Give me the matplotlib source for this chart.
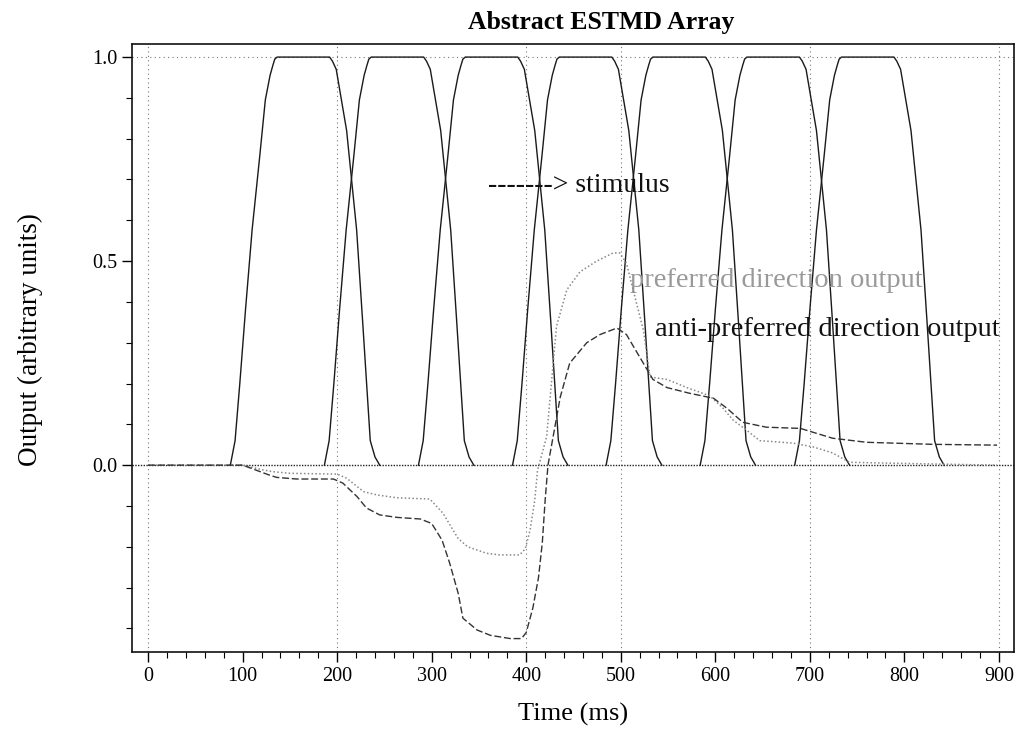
import matplotlib
matplotlib.use("Agg")
import matplotlib.pyplot as plt
import numpy as np

# ---- data ----
# stimulus (ESTMD array) units: onset times (ms) of each unit's receptive-field pulse
stim_onsets = [87, 186.5, 286, 385.5, 484.5, 584, 684]
# shape of one pulse: time after onset (ms) and output value
pulse_t = [0, 5, 10, 16, 23, 31, 37, 42, 45, 47, 49.5, 105, 108, 112, 123, 133.6, 140, 148, 153, 158]
pulse_v = [0, 0.06, 0.2, 0.38, 0.576, 0.755, 0.895, 0.955, 0.98, 0.995, 1.0, 1.0, 0.99, 0.97, 0.82, 0.576, 0.35, 0.06, 0.02, 0]

# preferred direction output (grey, dotted)
pref_t = [0, 100, 122, 132, 150, 200, 210, 228, 242, 263, 298, 312, 328, 338, 358, 372, 393,
          399, 404, 409, 412, 421.6, 432, 443, 457, 474.5, 492, 499, 506, 513, 524, 531,
          549, 570, 594, 608, 619, 633, 647, 682, 703, 724, 742, 781, 898]
pref_v = [0, 0, -0.012, -0.016, -0.02, -0.022, -0.032, -0.065, -0.073, -0.08, -0.083, -0.118,
          -0.18, -0.20, -0.216, -0.22, -0.22, -0.205, -0.16, -0.086, -0.012, 0.07, 0.34, 0.43,
          0.474, 0.50, 0.52, 0.52, 0.495, 0.43, 0.33, 0.216, 0.21, 0.19, 0.17, 0.14, 0.11,
          0.086, 0.06, 0.054, 0.045, 0.03, 0.007, 0.005, 0.0]

# anti-preferred direction output (dark, dashed)
anti_t = [0, 100, 129, 136, 157, 196, 206, 221, 231, 245, 263, 288, 300, 311, 319, 328, 333,
          348, 362, 383, 395, 400, 407, 413, 417, 420, 423, 436, 446, 464, 478, 496, 506,
          520, 534, 549, 573, 598, 612, 629, 654, 690, 724, 760, 830, 898]
anti_v = [0, 0, -0.025, -0.03, -0.034, -0.034, -0.044, -0.077, -0.105, -0.122, -0.128, -0.132,
          -0.143, -0.184, -0.24, -0.314, -0.375, -0.404, -0.417, -0.425, -0.425, -0.41, -0.35,
          -0.275, -0.19, -0.086, 0.0, 0.167, 0.25, 0.30, 0.32, 0.336, 0.32, 0.265, 0.21,
          0.19, 0.176, 0.164, 0.14, 0.105, 0.093, 0.09, 0.066, 0.056, 0.051, 0.049]

x_major = [0, 100, 200, 300, 400, 500, 600, 700, 800, 900]
x_grid = [0, 200, 400, 500, 700, 900]
y_major = [0.0, 0.5, 1.0]
y_minor = [-0.4, -0.3, -0.2, -0.1, 0.1, 0.2, 0.3, 0.4, 0.6, 0.7, 0.8, 0.9]

title = "Abstract ESTMD Array"
xlabel = "Time (ms)"
ylabel = "Output (arbitrary units)"

# ---- figure ----
plt.rcParams['font.family'] = ['Liberation Serif', 'DejaVu Serif']
fig = plt.figure(figsize=(10.18, 7.30), dpi=100)
ax = fig.add_axes([0.1297, 0.1068, 0.8664, 0.8329])

# grid lines
for gx in x_grid:
    ax.axvline(gx, color='#777777', lw=0.8, ls=(0, (1, 3)), zorder=1)
ax.axhline(1.0, color='#777777', lw=0.8, ls=(0, (1, 3)), zorder=1)
ax.axhline(0.0, color='#222222', lw=1.0, ls=(0, (1, 1)), zorder=1)

# stimulus pulses
for on in stim_onsets:
    ax.plot(np.array(pulse_t) + on, pulse_v, color='#1a1a1a', lw=1.0, zorder=3)

ax.plot(pref_t, pref_v, color='#888888', lw=1.1, ls=(0, (1, 1.5)), zorder=4)
ax.plot(anti_t, anti_v, color='#333333', lw=1.0, ls=(0, (5, 2)), zorder=4)

# annotations
ax.text(360, 0.686, "-------> stimulus", fontsize=20, color='#111111', va='center', ha='left')
ax.text(510, 0.453, "preferred direction output", fontsize=20.5, color='#999999',
        va='center', ha='left')
ax.text(536, 0.333, "anti-preferred direction output", fontsize=20.5, color='#111111',
        va='center', ha='left')

ax.set_xlim(-17, 916)
ax.set_ylim(-0.458, 1.032)
ax.set_xticks(x_major)
ax.set_xticks(np.arange(0, 901, 20), minor=True)
ax.set_yticks(y_major)
ax.set_yticklabels(["0.0", "0.5", "1.0"])
ax.set_yticks(y_minor, minor=True)
ax.tick_params(axis='both', which='major', direction='out', length=7, width=1, labelsize=14.5)
ax.tick_params(axis='both', which='minor', direction='out', length=4, width=0.8)
ax.tick_params(top=False, right=False)
for s in ax.spines.values():
    s.set_linewidth(1.2)
    s.set_color('#111111')

fig.text(601 / 1018, 1 - 22 / 730, title, fontsize=18.5, fontweight='bold',
         ha='center', va='center')
fig.text(573 / 1018, 1 - 714 / 730, xlabel, fontsize=19, ha='center', va='center')
fig.text(30 / 1018, 1 - 340 / 730, ylabel, fontsize=19.5, ha='center', va='center',
         rotation=90)

fig.savefig("out.png", dpi=100)
